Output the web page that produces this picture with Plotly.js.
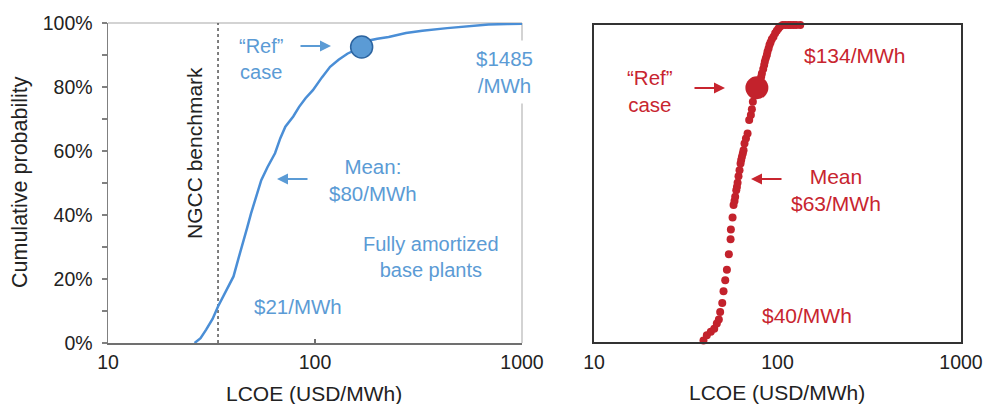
<!DOCTYPE html>
<html>
<head>
<meta charset="utf-8">
<script src="https://cdn.plot.ly/plotly-3.0.1.min.js"></script>
<style>html,body{margin:0;padding:0;background:#fff;}#chart{width:984px;height:404px;}</style>
</head>
<body>
<div id="chart"></div>
<script>
// ---------- data ----------
// Left panel: cumulative distribution of LCOE (fully amortized base plants)
const blueLCOE = [26.2, 28, 29.8, 32, 34, 37, 40.4, 42.5, 44.6, 47, 49.1, 52, 55, 59, 64.1, 68, 71.9, 78.5, 83.8, 90, 97.7, 108, 118.3, 130, 143.3, 168, 185, 200, 227, 275, 330, 435, 550, 690, 850, 1000];
const blueProb = [0, 1.5, 4.2, 7.5, 11.4, 16, 20.8, 26, 31.2, 36, 40.5, 46, 50.9, 55, 59.3, 64, 67.6, 70.8, 73.8, 76.5, 79, 83, 86.3, 88.5, 90.4, 92.5, 94.6, 95.1, 95.6, 96.9, 97.6, 98.4, 99, 99.5, 99.7, 99.8];
const blueRefLCOE = [168];
const blueRefProb = [92.5];
const ngccBenchmark = [34, 34];
const ngccProb = [0, 100];

// Right panel: cumulative distribution (dots)
const redLCOE = [39.5, 41.2, 43.3, 45.2, 46.7, 47.9, 48.7, 50.0, 50.8, 51.9, 53.0, 54.3, 55.5, 55.7, 56.9, 57.6, 58.3, 58.8, 59.6, 60.1, 60.6, 61.3, 62.1, 62.9, 63.4, 64.0, 64.7, 65.3, 66.1, 67.3, 68.7, 70.1, 71.6, 72.5, 73.4, 79.1, 80.5, 81.5, 82.2, 83.6, 84.6, 85.3, 86.3, 87.5, 88.2, 89.4, 90.4, 91.6, 93.1, 95.1, 97.1, 99.1, 101.2, 103.4, 106.8, 110.6, 114.7, 118.3, 122.3, 126.5, 133];
const redProb = [0.5, 2.1, 3.2, 4.2, 5.8, 7.1, 9.5, 12.3, 16.0, 19.5, 22.8, 27.7, 32.4, 35.5, 39.3, 43.2, 44.5, 45.8, 47.9, 48.9, 50.2, 52.3, 54.2, 56.3, 57.4, 58.4, 59.5, 60.5, 62.6, 64.2, 65.8, 70.0, 71.6, 73.4, 75.8, 81.6, 82.6, 83.7, 84.7, 86.1, 87.4, 88.4, 89.5, 90.5, 91.6, 92.6, 93.7, 94.5, 95.5, 96.3, 97.4, 98.2, 98.9, 99.5, 100, 100, 100, 100, 100, 100, 100];
const redRefLCOE = [77.2];
const redRefProb = [80.2];

// ticks
const xTickVals = [10, 100, 1000];
const xTickText = ['10', '100', '1000'];
const yTickVals = [0, 10, 20, 30, 40, 50, 60, 70, 80, 90, 100];
const yTickText = ['0%', '', '20%', '', '40%', '', '60%', '', '80%', '', '100%'];

// ---------- styles ----------
const W = 984, H = 404;
const FONT = 'Liberation Sans, Arial, Helvetica, sans-serif';
const BLUE_TXT = '#5b9bd5';
const BLUE_LINE = '#4a8ed6';
const RED = '#c3222c';
const RED_TXT = '#c8252f';
const DARK = '#222';

function px(x) { return x / W; }
function py(y) { return 1 - y / H; }

function label(text, x, y, color, extra, size) {
  return Object.assign({
    text: text, xref: 'paper', yref: 'paper', x: px(x), y: py(y),
    xanchor: 'center', yanchor: 'middle', showarrow: false,
    font: {family: FONT, size: size || 20, color: color}
  }, extra || {});
}
function arrow(xTip, yTip, dx, color) {
  return {
    text: '', xref: 'paper', yref: 'paper', x: px(xTip), y: py(yTip),
    ax: dx, ay: 0, showarrow: true, arrowhead: 2, arrowsize: 1.1,
    arrowwidth: 2, arrowcolor: color, standoff: 0, startstandoff: 0
  };
}

const traces = [
  {x: ngccBenchmark, y: ngccProb, xaxis: 'x', yaxis: 'y', mode: 'lines',
   line: {color: '#555', width: 1.5, dash: '3px,3px'}, hoverinfo: 'skip'},
  {x: blueLCOE, y: blueProb, xaxis: 'x', yaxis: 'y', mode: 'lines',
   line: {color: BLUE_LINE, width: 2.5}, cliponaxis: false},
  {x: blueRefLCOE, y: blueRefProb, xaxis: 'x', yaxis: 'y', mode: 'markers',
   marker: {size: 22, color: '#5b9bd5', line: {color: '#2c64a0', width: 1.5}}, cliponaxis: false},
  {x: redLCOE, y: redProb, xaxis: 'x2', yaxis: 'y2', mode: 'markers',
   marker: {size: 8, color: RED}, cliponaxis: false},
  {x: redRefLCOE, y: redRefProb, xaxis: 'x2', yaxis: 'y2', mode: 'markers',
   marker: {size: 23, color: RED}, cliponaxis: false}
];

const tickFont = {family: FONT, size: 19.5, color: DARK};

const layout = {
  width: W, height: H,
  margin: {l: 0, r: 0, t: 0, b: 0},
  paper_bgcolor: '#fff', plot_bgcolor: '#fff',
  showlegend: false,
  font: {family: FONT},
  xaxis: {
    domain: [108 / W, 522 / W], anchor: 'y', type: 'log', range: [1, 3],
    showgrid: false, zeroline: false, showline: true, linecolor: '#707070', linewidth: 2,
    ticks: 'inside', ticklen: 4, tickcolor: '#707070', tickwidth: 1.5,
    tickmode: 'array', tickvals: xTickVals, ticktext: xTickText,
    tickfont: tickFont, ticklabelstandoff: 1
  },
  yaxis: {
    domain: [py(343), py(23)], anchor: 'x', range: [0, 100],
    showgrid: false, zeroline: false, showline: true, linecolor: '#808080', linewidth: 1.5,
    ticks: 'outside', ticklen: 5, tickcolor: '#808080', tickwidth: 1.5,
    tickmode: 'array', tickvals: yTickVals, ticktext: yTickText,
    tickfont: tickFont, ticklabelstandoff: 5
  },
  xaxis2: {
    domain: [594 / W, 961 / W], anchor: 'y2', type: 'log', range: [1, 3],
    showgrid: false, zeroline: false, showline: true, mirror: true, linecolor: '#333', linewidth: 2,
    ticks: '', tickmode: 'array', tickvals: xTickVals, ticktext: xTickText,
    tickfont: tickFont, ticklabelstandoff: 2
  },
  yaxis2: {
    domain: [py(342), py(25)], anchor: 'x2', range: [0, 100],
    showgrid: false, zeroline: false, showline: true, mirror: true, linecolor: '#333', linewidth: 2,
    ticks: '', showticklabels: false
  },
  shapes: [
    {type: 'line', xref: 'x domain', yref: 'y domain', x0: 0, x1: 1, y0: 1, y1: 1,
     line: {color: '#c4c4c4', width: 1.5}, layer: 'below'},
    {type: 'line', xref: 'x domain', yref: 'y domain', x0: 1, x1: 1, y0: 0, y1: 1,
     line: {color: '#c4c4c4', width: 1.5}, layer: 'below'}
  ],
  annotations: [
    // axis titles
    label('LCOE (USD/MWh)', 314, 393, DARK, null, 21),
    label('LCOE (USD/MWh)', 777, 392, DARK, null, 21),
    label('Cumulative probability', 20, 182, DARK, {textangle: -90}, 21.5),
    label('NGCC benchmark', 194, 153, DARK, {textangle: -90}, 21),
    // left panel (blue)
    label('\u201CRef\u201D<br>case', 261, 59, BLUE_TXT),
    arrow(331, 46, -32, BLUE_TXT),
    label('$1485<br>/MWh', 504, 72, BLUE_TXT, {bgcolor: '#fff', borderpad: 6}, 20.5),
    label('Mean:<br>$80/MWh', 373, 180, BLUE_TXT, null, 20.5),
    arrow(277, 179, 32, BLUE_TXT),
    label('Fully amortized<br>base plants', 431, 257, BLUE_TXT),
    label('$21/MWh', 298, 306, BLUE_TXT, null, 20.5),
    // right panel (red)
    label('$134/MWh', 855, 55, RED_TXT, null, 21),
    label('\u201CRef\u201D<br>case', 650, 91, RED_TXT, null, 20.5),
    arrow(725, 88, -32, RED_TXT),
    label('Mean<br>$63/MWh', 836, 190, RED_TXT, null, 21),
    arrow(751, 179, 32, RED_TXT),
    label('$40/MWh', 807, 315, RED_TXT, null, 21)
  ]
};

Plotly.newPlot('chart', traces, layout, {staticPlot: true, displayModeBar: false});
</script>
</body>
</html>
